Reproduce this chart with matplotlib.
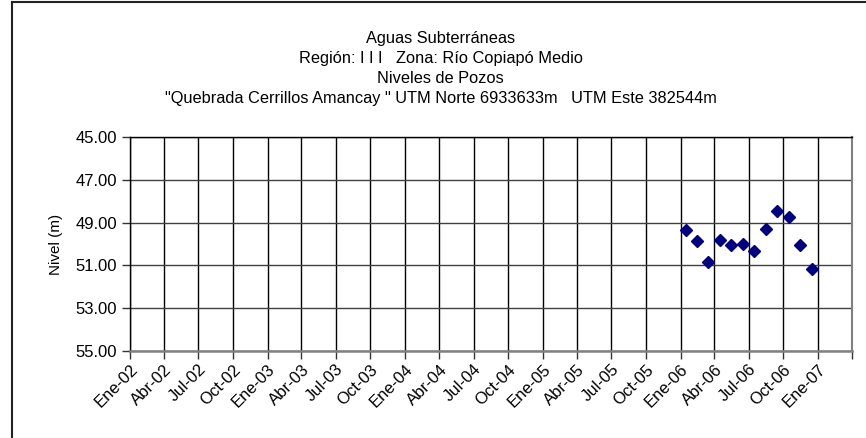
import matplotlib.pyplot as plt
from matplotlib.lines import Line2D
from datetime import date

plt.rcParams['font.family'] = ['Liberation Sans', 'DejaVu Sans']

# measurement dates and well levels (m)
fechas = [date(2006, 1, 15), date(2006, 2, 15), date(2006, 3, 15), date(2006, 4, 15),
          date(2006, 5, 15), date(2006, 6, 15), date(2006, 7, 15), date(2006, 8, 15),
          date(2006, 9, 15), date(2006, 10, 15), date(2006, 11, 15), date(2006, 12, 15)]
niveles = [49.36, 49.84, 50.83, 49.81, 50.05, 50.02, 50.31, 49.28, 48.44, 48.74, 50.05, 51.15]

meses = ['Ene', 'Abr', 'Jul', 'Oct']
anios = [2002, 2003, 2004, 2005, 2006, 2007]
y_ticks = [45, 47, 49, 51, 53, 55]

titulo = ('Aguas Subterráneas\n'
          'Región: I I I   Zona: Río Copiapó Medio\n'
          'Niveles de Pozos\n'
          '"Quebrada Cerrillos Amancay " UTM Norte 6933633m   UTM Este 382544m')

fig = plt.figure(figsize=(8.66, 4.38), dpi=100)
ax = fig.add_axes([0.1501, 0.1993, 0.8337, 0.4872])

# quarterly ticks
tick_dates = []
tick_labels = []
for a in anios:
    for i, m in enumerate(meses):
        d = date(a, 1 + 3 * i, 1)
        if d > date(2007, 1, 1):
            break
        tick_dates.append(d)
        tick_labels.append(f'{m}-{str(a)[2:]}')

ax.set_xlim(date(2002, 1, 1), date(2007, 4, 1))
ax.set_ylim(55, 45)
ax.set_xticks(tick_dates + [date(2007, 4, 1)])
ax.set_xticklabels(tick_labels + [''], rotation=45, ha='right', rotation_mode='anchor')
ax.set_yticks(y_ticks)
ax.set_yticklabels([f'{v:.2f}' for v in y_ticks])
ax.tick_params(axis='both', labelsize=12, length=6, width=1, color='#333333', direction='out')
ax.tick_params(axis='x', pad=2)

ax.grid(axis='x', color='black', lw=1)
ax.grid(axis='y', color='#404040', lw=1)
ax.set_axisbelow(True)

for s in ['left', 'top']:
    ax.spines[s].set_color('black')
    ax.spines[s].set_linewidth(1)
ax.spines['right'].set_color('#808080')
ax.spines['right'].set_linewidth(1.5)
ax.spines['bottom'].set_color('#808080')
ax.spines['bottom'].set_linewidth(1.8)

ax.plot(fechas, niveles, linestyle='none', marker='D', markersize=6.5,
        color='#000080', clip_on=False, zorder=3)

ax.set_ylabel('Nivel (m)', fontsize=11, labelpad=9)

fig.text(0.509, 0.93, titulo, ha='center', va='top', fontsize=11.8, linespacing=1.44)

# chart area frame
fig.add_artist(Line2D([11.7 / 866, 11.7 / 866], [0, 1 - 1.7 / 438], color='#222222', lw=1.5))
fig.add_artist(Line2D([11.7 / 866, 1], [1 - 1.7 / 438, 1 - 1.7 / 438], color='#222222', lw=1.5))

fig.savefig('out.png', dpi=100)
